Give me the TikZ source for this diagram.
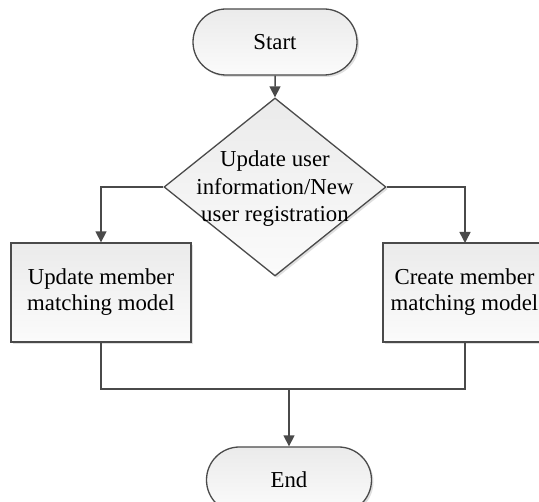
\documentclass[tikz,border=0pt]{standalone}
\usepackage{fontspec}
\setmainfont{Liberation Serif}
\usetikzlibrary{shapes.geometric,shapes.misc,arrows.meta,shadows}
\definecolor{linec}{HTML}{4A4A4A}
\tikzset{
  shaded/.style={draw=linec, line width=1.3pt, top color=gray!16, bottom color=gray!3,
    drop shadow={opacity=0.25, shadow xshift=2pt, shadow yshift=-2pt},
    inner sep=0pt, align=center, font=\fontsize{22.8}{26}\selectfont},
  term/.style={shaded, rounded rectangle, minimum height=66pt},
  procbox/.style={shaded, rectangle, minimum height=99pt},
  decision/.style={shaded, diamond, minimum width=222pt, minimum height=178pt},
  plaintext/.style={align=center, inner sep=0pt, font=\fontsize{22.8}{27.5}\selectfont},
  flow/.style={draw=linec, line width=1.5pt, -{Triangle[width=11pt,length=11pt]}},
  conn/.style={draw=linec, line width=1.5pt},
}
\begin{document}
\begin{tikzpicture}
\clip (0,0) rectangle (539pt,-502pt);
\node[term, minimum width=164pt] (start) at (275pt,-42pt) {Start};
\node[decision] (dec) at (275pt,-187pt) {};
\node[plaintext] (dectext) at (275pt,-189pt) {Update user\\information/New\\user registration};
\node[procbox, minimum width=180pt] (upd) at (101pt,-292.5pt) {Update member\\matching model};
\node[procbox, minimum width=180pt] (cre) at (473pt,-292.5pt) {};
\node[plaintext, font=\fontsize{22.8}{26}\selectfont] (cretext) at (464.5pt,-292.5pt) {Create member\\matching model};
\node[term, minimum width=165pt] (end) at (289pt,-480pt) {End};
\coordinate (join) at (289pt,-389pt);
\coordinate (crein) at (465pt,-243pt);
\coordinate (creout) at (465pt,-342pt);
\draw[flow] (start) -- (dec);
\draw[flow] (dec.west) -| (upd.north);
\draw[flow] (dec.east) -| (crein);
\draw[conn] (upd.south) |- (join) -| (creout);
\draw[flow] (join) -- (end);
\end{tikzpicture}
\end{document}
